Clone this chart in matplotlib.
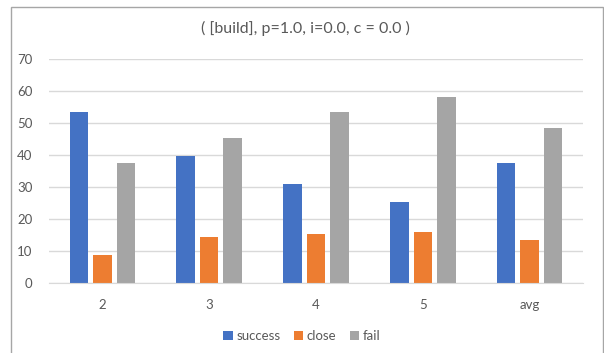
import matplotlib
matplotlib.use('Agg')
import matplotlib.pyplot as plt
import numpy as np
from matplotlib.patches import Rectangle

plt.rcParams['font.family'] = ['Lato', 'DejaVu Sans']

categories = ['2', '3', '4', '5', 'avg']
success = [53.4, 39.8, 31.1, 25.3, 37.4]
close = [8.8, 14.5, 15.4, 16.0, 13.6]
fail = [37.4, 45.5, 53.4, 58.2, 48.6]

series = [('success', success, '#4472C4'),
          ('close', close, '#ED7D31'),
          ('fail', fail, '#A5A5A5')]

fig = plt.figure(figsize=(6.04, 3.53), dpi=100)
ax = fig.add_axes([49 / 604, 1 - 283.3 / 353, (583 - 49) / 604, (283.3 - 59) / 353])

x = np.arange(len(categories))
width = 0.173
step = 0.22
for k, (name, vals, col) in enumerate(series):
    ax.bar(x + (k - 1) * step, vals, width, color=col, label=name, zorder=3)

ax.set_xlim(-0.5, len(categories) - 0.5)
ax.set_ylim(0, 70)
ax.set_yticks(range(0, 71, 10))
ax.set_xticks(x)
ax.set_xticklabels(categories)
ax.yaxis.grid(True, color='#D9D9D9', linewidth=1, zorder=0)
for s in ['top', 'right', 'left']:
    ax.spines[s].set_visible(False)
ax.spines['bottom'].set_color('#D9D9D9')
ax.spines['bottom'].set_zorder(4)
ax.tick_params(axis='both', length=0, colors='#595959', labelsize=9.5)
ax.tick_params(axis='y', pad=12)
ax.tick_params(axis='x', pad=11)

fig.text(0.505, 1 - 28 / 353, '( [build], p=1.0, i=0.0, c = 0.0 )',
         ha='center', va='center', fontsize=11.5, color='#595959')

fig.legend(loc='center', bbox_to_anchor=(0.5, 1 - 336 / 353), ncol=3,
           frameon=False, fontsize=9.5, handlelength=0.7, handleheight=0.7,
           handletextpad=0.3, columnspacing=1.0, labelcolor='#595959')

# outer chart frame
fig.patches.append(Rectangle((10.5 / 604, -0.1), (603 - 10.5) / 604, 1.1 - 7 / 353,
                             transform=fig.transFigure, fill=False,
                             edgecolor='#A6A6A6', linewidth=1))

fig.savefig('out.png', dpi=100)
